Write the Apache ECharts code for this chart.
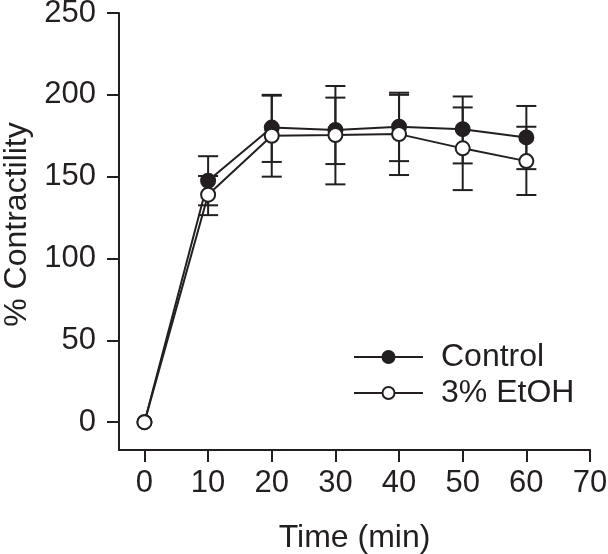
<!DOCTYPE html>
<html>
<head>
<meta charset="utf-8">
<script src="https://cdn.jsdelivr.net/npm/echarts@6/dist/echarts.min.js"></script>
<style>html,body{margin:0;padding:0;background:#fff}#c{width:608px;height:554px}</style>
</head>
<body>
<div id="c"></div>
<script>
const timeMin = [0, 10, 20, 30, 40, 50, 60];
const controlMean = [0, 147.5, 180, 178.5, 180.5, 179, 174];
const controlHi   = [null, 162.5, 200, 198.3, 200, 199, 193.2];
const controlLo   = [null, 132.5, 159, 157.7, 159.5, 158.1, 154.6];
const etohMean = [0, 139, 175, 175.4, 176, 167.3, 159.5];
const etohHi   = [null, 150.4, 199.5, 205.4, 201.3, 192.3, 180.5];
const etohLo   = [null, 126.5, 150, 145.3, 151, 141.8, 138.8];
const xTicks = [0, 10, 20, 30, 40, 50, 60, 70];
const yTicks = [0, 50, 100, 150, 200, 250];

const INK = '#231f20';
const FONT = "'Liberation Sans', Arial, sans-serif";

function errData(hi, lo) {
  const out = [];
  timeMin.forEach((t, i) => { if (hi[i] != null) out.push([t, hi[i], lo[i]]); });
  return out;
}
function renderErr(params, api) {
  const x = api.value(0), hi = api.value(1), lo = api.value(2);
  const a = api.coord([x, hi]), b = api.coord([x, lo]);
  const hw = 10;
  const st = { stroke: INK, lineWidth: 2, fill: null };
  return { type: 'group', children: [
    { type: 'line', shape: { x1: a[0], y1: a[1], x2: b[0], y2: b[1] }, style: st },
    { type: 'line', shape: { x1: a[0] - hw, y1: a[1], x2: a[0] + hw, y2: a[1] }, style: st },
    { type: 'line', shape: { x1: b[0] - hw, y1: b[1], x2: b[0] + hw, y2: b[1] }, style: st }
  ]};
}

const chart = echarts.init(document.getElementById('c'), null, { renderer: 'canvas' });
chart.setOption({
  backgroundColor: '#fff',
  animation: false,
  textStyle: { fontFamily: FONT, color: INK },
  grid: { left: 119, right: 18, top: 13, bottom: 104, containLabel: false, outerBoundsMode: 'none' },
  legend: {
    orient: 'vertical', left: 353, top: 341, itemGap: 4, padding: 0,
    itemWidth: 69, itemHeight: 15,
    textStyle: { fontSize: 32, color: INK, fontFamily: FONT, padding: [0, 0, 0, 13] },
    data: ['Control', '3% EtOH']
  },
  xAxis: {
    type: 'value', min: -4, max: 70,
    name: 'Time (min)', nameLocation: 'middle', nameGap: 72,
    nameTextStyle: { fontSize: 32, color: INK, fontFamily: FONT },
    axisLine: { onZero: false, lineStyle: { color: INK, width: 2 } },
    axisTick: { show: true, length: 12, lineStyle: { color: INK, width: 2 }, customValues: xTicks },
    axisLabel: { fontSize: 31, color: INK, fontFamily: FONT, margin: 18, customValues: xTicks },
    splitLine: { show: false }
  },
  yAxis: {
    type: 'value', min: -17, max: 250,
    name: '% Contractility', nameLocation: 'middle', nameGap: 76, nameRotate: 90,
    nameTextStyle: { fontSize: 32, color: INK, fontFamily: FONT, padding: [0, 0, 0, 14] },
    axisLine: { show: true, onZero: false, lineStyle: { color: INK, width: 2 } },
    axisTick: { show: true, length: 12, lineStyle: { color: INK, width: 2 }, customValues: yTicks },
    axisLabel: { fontSize: 31, color: INK, fontFamily: FONT, margin: 23, customValues: yTicks },
    splitLine: { show: false }
  },
  series: [
    { type: 'custom', name: 'errC', renderItem: renderErr, data: errData(controlHi, controlLo), z: 1, silent: true },
    { type: 'custom', name: 'errE', renderItem: renderErr, data: errData(etohHi, etohLo), z: 1, silent: true },
    {
      type: 'line', name: 'Control', z: 3,
      data: timeMin.map((t, i) => [t, controlMean[i]]),
      symbol: 'circle', symbolSize: 14, showAllSymbol: true,
      lineStyle: { color: INK, width: 2 },
      itemStyle: { color: INK, borderColor: INK, borderWidth: 2 }
    },
    {
      type: 'line', name: '3% EtOH', z: 4,
      data: timeMin.map((t, i) => [t, etohMean[i]]),
      symbol: 'circle', symbolSize: 14, showAllSymbol: true,
      lineStyle: { color: INK, width: 2 },
      itemStyle: { color: '#fff', borderColor: INK, borderWidth: 2 }
    }
  ]
});
</script>
</body>
</html>
